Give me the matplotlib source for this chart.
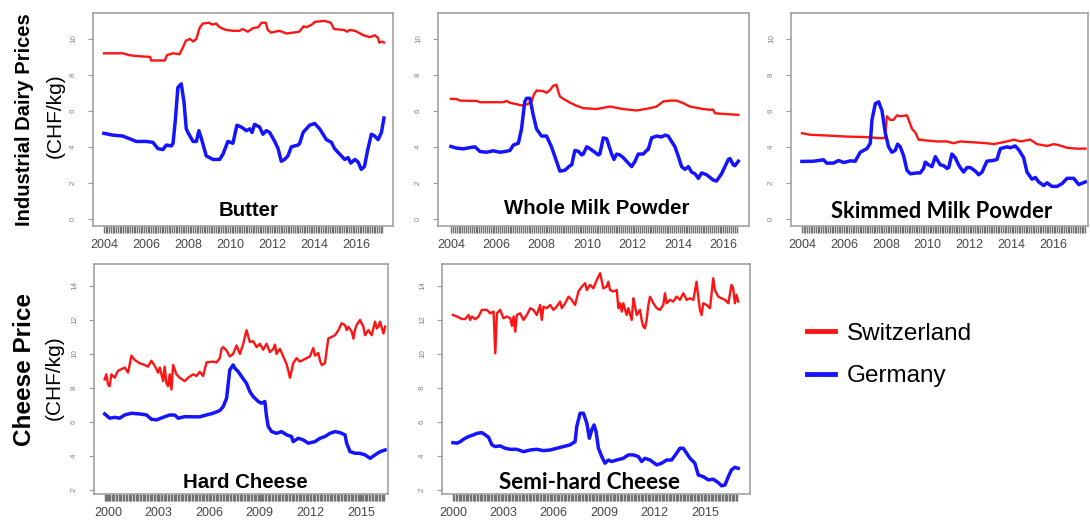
import numpy as np
import matplotlib
matplotlib.use("Agg")
import matplotlib.pyplot as plt
from matplotlib.lines import Line2D
from matplotlib.ticker import FixedLocator

plt.rcParams['font.family'] = ['Liberation Sans', 'DejaVu Sans']

SWISS = '#ff1414'
GERMAN = '#1414ff'

# ---------------- data (CHF/kg) ----------------
butter_ch_t = [2004.0, 2004.9, 2005.2, 2005.5, 2006.2, 2006.25, 2006.9, 2007.0, 2007.3, 2007.6,
               2007.75, 2007.9, 2008.1, 2008.25, 2008.4, 2008.55, 2008.7, 2009.0, 2009.15, 2009.35,
               2009.5, 2009.8, 2010.15, 2010.45, 2010.6, 2010.85, 2011.1, 2011.35, 2011.5, 2011.7,
               2011.8, 2011.95, 2012.35, 2012.7, 2013.3, 2013.5, 2013.65, 2013.9, 2014.05, 2014.5,
               2014.8, 2014.95, 2015.4, 2015.6, 2015.7, 2015.95, 2016.2, 2016.35, 2016.65, 2016.9,
               2017.05, 2017.1, 2017.25, 2017.33]
butter_ch = [9.2, 9.2, 9.1, 9.05, 9.0, 8.8, 8.8, 9.1, 9.2, 9.15,
             9.5, 9.9, 10.0, 9.85, 10.0, 10.6, 10.85, 10.9, 10.8, 10.85,
             10.65, 10.5, 10.45, 10.45, 10.55, 10.4, 10.6, 10.65, 10.9, 10.9,
             10.5, 10.35, 10.45, 10.3, 10.4, 10.7, 10.65, 10.8, 10.95, 11.0,
             10.9, 10.55, 10.5, 10.4, 10.5, 10.45, 10.3, 10.2, 10.1, 10.2,
             10.05, 9.8, 9.85, 9.8]
butter_de_t = [2004.0, 2004.43, 2004.9, 2005.22, 2005.54, 2006.02, 2006.33, 2006.57, 2006.81, 2006.97,
               2007.21, 2007.29, 2007.4, 2007.52, 2007.68, 2007.81, 2007.92, 2008.0, 2008.24, 2008.4,
               2008.52, 2008.63, 2008.87, 2009.19, 2009.51, 2009.67, 2009.9, 2010.14, 2010.33, 2010.54,
               2010.78, 2010.94, 2011.05, 2011.17, 2011.41, 2011.57, 2011.73, 2011.89, 2012.13, 2012.29,
               2012.44, 2012.6, 2012.76, 2012.92, 2013.24, 2013.32, 2013.48, 2013.79, 2014.03, 2014.27,
               2014.43, 2014.59, 2014.83, 2014.98, 2015.22, 2015.46, 2015.62, 2015.75, 2015.95, 2016.1,
               2016.25, 2016.4, 2016.55, 2016.73, 2016.89, 2017.05, 2017.21, 2017.33]
butter_de = [4.75, 4.65, 4.6, 4.45, 4.3, 4.3, 4.25, 3.9, 3.85, 4.1,
             4.05, 4.2, 5.5, 7.3, 7.5, 6.5, 5.0, 4.8, 4.3, 4.3,
             4.9, 4.5, 3.5, 3.3, 3.3, 3.6, 4.3, 4.2, 5.2, 5.1,
             4.9, 5.0, 4.8, 5.25, 5.1, 4.7, 4.9, 4.8, 4.3, 3.9,
             3.2, 3.3, 3.5, 4.0, 4.1, 4.2, 4.8, 5.2, 5.3, 5.0,
             4.7, 4.4, 4.25, 3.9, 3.6, 3.3, 3.4, 3.1, 3.3, 3.15,
             2.75, 2.9, 3.8, 4.7, 4.6, 4.4, 4.8, 5.6]

wmp_ch_t = [2004.0, 2004.25, 2004.4, 2005.13, 2005.28, 2006.31, 2006.45, 2006.6, 2006.89, 2007.11,
            2007.33, 2007.55, 2007.65, 2007.77, 2008.07, 2008.21, 2008.36, 2008.51, 2008.65, 2008.73,
            2008.8, 2008.95, 2009.24, 2009.54, 2009.83, 2010.42, 2011.0, 2011.59, 2012.18, 2012.77,
            2013.06, 2013.35, 2013.65, 2013.94, 2014.23, 2014.53, 2015.12, 2015.41, 2015.55, 2015.63,
            2016.0, 2016.66]
wmp_ch = [6.67, 6.65, 6.57, 6.55, 6.48, 6.48, 6.55, 6.45, 6.37, 6.3,
          6.35, 6.5, 6.9, 7.13, 7.1, 7.0, 7.15, 7.4, 7.45, 7.07,
          6.8, 6.67, 6.46, 6.28, 6.15, 6.1, 6.24, 6.1, 6.02, 6.15,
          6.24, 6.52, 6.57, 6.57, 6.43, 6.24, 6.1, 6.06, 6.07, 5.87,
          5.83, 5.78]
wmp_de_t = [2004.0, 2004.25, 2004.54, 2004.84, 2005.06, 2005.28, 2005.57, 2005.86, 2006.16, 2006.38,
            2006.6, 2006.75, 2006.97, 2007.11, 2007.25, 2007.33, 2007.48, 2007.62, 2007.77, 2007.99,
            2008.21, 2008.43, 2008.65, 2008.8, 2009.02, 2009.24, 2009.32, 2009.46, 2009.61, 2009.76,
            2009.83, 2009.98, 2010.12, 2010.34, 2010.49, 2010.56, 2010.71, 2010.86, 2011.0, 2011.08,
            2011.18, 2011.3, 2011.44, 2011.59, 2011.81, 2011.96, 2012.11, 2012.25, 2012.47, 2012.62,
            2012.69, 2012.84, 2013.06, 2013.28, 2013.43, 2013.57, 2013.72, 2013.87, 2014.01, 2014.16,
            2014.31, 2014.46, 2014.6, 2014.75, 2014.9, 2015.04, 2015.26, 2015.41, 2015.56, 2015.7,
            2015.92, 2016.07, 2016.22, 2016.29, 2016.44, 2016.51, 2016.66]
wmp_de = [4.02, 3.93, 3.89, 3.96, 4.0, 3.74, 3.7, 3.78, 3.7, 3.74,
          3.8, 4.1, 4.2, 5.0, 6.5, 6.7, 6.7, 5.8, 5.0, 4.6,
          4.6, 4.0, 3.2, 2.65, 2.7, 2.95, 3.0, 3.8, 3.75, 3.55,
          3.6, 4.0, 3.9, 3.7, 3.55, 3.6, 4.5, 4.45, 3.9, 3.6,
          3.3, 3.6, 3.55, 3.4, 3.1, 2.9, 3.2, 3.6, 3.6, 3.8,
          3.85, 4.5, 4.6, 4.55, 4.65, 4.6, 4.3, 4.0, 3.5, 2.9,
          2.75, 2.9, 2.6, 2.5, 2.25, 2.55, 2.45, 2.3, 2.15, 2.1,
          2.5, 2.9, 3.3, 3.35, 3.0, 2.95, 3.2]

smp_ch_t = [2004.0, 2004.4, 2005.19, 2006.15, 2007.1, 2007.74, 2007.97, 2008.05, 2008.21, 2008.37,
            2008.53, 2008.69, 2009.01, 2009.09, 2009.25, 2009.41, 2009.56, 2009.96, 2010.44, 2010.92,
            2011.23, 2011.55, 2012.19, 2012.82, 2013.14, 2013.78, 2014.1, 2014.41, 2014.89, 2015.21,
            2015.69, 2016.0, 2016.24, 2016.64, 2017.12, 2017.52]
smp_ch = [4.76, 4.67, 4.63, 4.57, 4.54, 4.48, 4.5, 5.7, 5.5, 5.5,
          5.75, 5.7, 5.75, 5.5, 5.0, 4.8, 4.4, 4.35, 4.3, 4.3,
          4.2, 4.3, 4.25, 4.2, 4.15, 4.3, 4.4, 4.3, 4.4, 4.15,
          4.05, 4.15, 4.1, 3.95, 3.9, 3.9]
smp_de_t = [2004.0, 2004.56, 2005.03, 2005.19, 2005.51, 2005.75, 2005.99, 2006.31, 2006.54, 2006.78,
            2007.1, 2007.26, 2007.34, 2007.5, 2007.66, 2007.82, 2007.97, 2008.13, 2008.29, 2008.45,
            2008.56, 2008.69, 2008.85, 2009.01, 2009.17, 2009.48, 2009.64, 2009.8, 2009.88, 2010.04,
            2010.2, 2010.36, 2010.44, 2010.6, 2010.76, 2010.92, 2011.0, 2011.15, 2011.31, 2011.47,
            2011.55, 2011.71, 2011.87, 2012.03, 2012.27, 2012.43, 2012.59, 2012.82, 2013.14, 2013.3,
            2013.46, 2013.78, 2013.94, 2014.17, 2014.33, 2014.49, 2014.57, 2014.73, 2014.97, 2015.13,
            2015.29, 2015.53, 2015.69, 2015.92, 2016.16, 2016.4, 2016.64, 2016.96, 2017.2, 2017.51]
smp_de = [3.19, 3.2, 3.28, 3.09, 3.1, 3.24, 3.13, 3.22, 3.2, 3.7,
          3.9, 4.2, 5.5, 6.4, 6.5, 6.0, 4.8, 4.0, 3.7, 3.8,
          4.15, 4.0, 3.5, 2.7, 2.5, 2.55, 2.55, 2.8, 3.15, 3.0,
          2.9, 3.45, 3.3, 3.0, 2.95, 2.8, 2.85, 3.6, 3.4, 3.0,
          2.85, 2.6, 2.85, 2.85, 2.65, 2.45, 2.6, 3.2, 3.25, 3.3,
          3.9, 4.0, 3.95, 4.05, 3.85, 3.55, 3.4, 2.6, 2.2, 2.3,
          2.05, 1.85, 2.0, 1.8, 1.8, 1.95, 2.25, 2.25, 1.9, 2.05]

hard_ch_t = [1999.8, 1999.9, 2000.0, 2000.1, 2000.2, 2000.4, 2000.59, 2000.79, 2000.99, 2001.19,
             2001.39, 2001.58, 2001.88, 2002.18, 2002.37, 2002.57, 2002.77, 2002.97, 2003.07, 2003.27,
             2003.36, 2003.46, 2003.56, 2003.66, 2003.76, 2003.86, 2004.06, 2004.25, 2004.55, 2004.75,
             2005.05, 2005.24, 2005.44, 2005.64, 2005.84, 2006.23, 2006.43, 2006.63, 2006.73, 2006.83,
             2007.03, 2007.22, 2007.42, 2007.62, 2007.82, 2008.02, 2008.21, 2008.41, 2008.61, 2008.81,
             2009.0, 2009.2, 2009.4, 2009.6, 2009.8, 2009.9, 2009.99, 2010.19, 2010.39, 2010.59,
             2010.79, 2010.88, 2010.98, 2011.18, 2011.38, 2011.68, 2011.97, 2012.17, 2012.27, 2012.47,
             2012.57, 2012.67, 2012.86, 2013.06, 2013.26, 2013.46, 2013.66, 2013.85, 2014.05, 2014.15,
             2014.25, 2014.45, 2014.55, 2014.64, 2014.74, 2014.94, 2015.14, 2015.24, 2015.44, 2015.63,
             2015.83, 2015.93, 2016.03, 2016.13, 2016.33, 2016.43]
hard_ch = [8.5, 8.8, 8.2, 8.1, 8.8, 8.6, 9.0, 9.1, 9.2, 8.9,
           9.9, 9.65, 9.45, 9.35, 9.25, 9.6, 9.3, 8.9, 9.2, 8.4,
           9.25, 8.3, 8.1, 8.8, 7.9, 9.35, 8.8, 8.6, 8.4, 8.6,
           8.8, 8.7, 8.95, 8.7, 9.5, 9.55, 9.5, 9.75, 10.3, 10.4,
           10.2, 9.85, 10.0, 10.5, 10.0, 10.6, 11.4, 10.7, 10.75, 10.4,
           10.6, 10.25, 10.6, 10.1, 10.3, 10.55, 10.0, 10.3, 9.85, 9.4,
           8.6, 9.0, 9.45, 9.75, 9.55, 9.7, 9.85, 10.35, 9.9, 10.05,
           9.6, 9.35, 9.45, 10.9, 11.0, 11.1, 11.4, 11.8, 11.7, 11.4,
           11.6, 11.3, 10.9, 11.4, 11.7, 12.0, 11.6, 11.1, 11.4, 11.1,
           11.9, 11.5, 11.6, 11.9, 11.2, 11.6]
hard_de_t = [1999.8, 2000.1, 2000.4, 2000.69, 2000.99, 2001.39, 2001.88, 2002.28, 2002.57, 2002.87,
             2003.27, 2003.66, 2003.96, 2004.16, 2004.55, 2004.95, 2005.44, 2005.84, 2006.23, 2006.63,
             2006.83, 2007.03, 2007.22, 2007.42, 2007.52, 2007.72, 2007.92, 2008.21, 2008.41, 2008.61,
             2008.91, 2009.1, 2009.3, 2009.4, 2009.5, 2009.7, 2009.99, 2010.29, 2010.59, 2010.88,
             2010.98, 2011.28, 2011.58, 2011.87, 2012.27, 2012.57, 2012.86, 2013.16, 2013.46, 2013.75,
             2014.05, 2014.15, 2014.35, 2014.64, 2014.94, 2015.24, 2015.54, 2015.83, 2016.13, 2016.43]
hard_de = [6.47, 6.22, 6.27, 6.22, 6.41, 6.51, 6.47, 6.41, 6.16, 6.12,
           6.27, 6.41, 6.4, 6.22, 6.31, 6.3, 6.3, 6.41, 6.51, 6.67,
           6.9, 7.39, 9.06, 9.35, 9.16, 8.96, 8.67, 8.27, 7.78, 7.49,
           7.2, 7.1, 7.2, 6.31, 5.73, 5.43, 5.33, 5.43, 5.24, 5.14,
           4.84, 5.04, 4.94, 4.75, 4.84, 5.04, 5.14, 5.33, 5.43, 5.37,
           5.24, 4.75, 4.25, 4.16, 4.15, 4.06, 3.86, 4.06, 4.25, 4.35]

semi_ch_t = [2000.0, 2000.24, 2000.53, 2000.73, 2000.93, 2001.03, 2001.13, 2001.33, 2001.53, 2001.72,
             2002.02, 2002.22, 2002.42, 2002.52, 2002.62, 2002.81, 2003.01, 2003.21, 2003.41, 2003.51,
             2003.61, 2003.71, 2003.8, 2004.0, 2004.2, 2004.4, 2004.6, 2004.79, 2004.99, 2005.19,
             2005.29, 2005.39, 2005.59, 2005.79, 2005.98, 2006.18, 2006.38, 2006.48, 2006.68, 2006.88,
             2007.07, 2007.27, 2007.47, 2007.67, 2007.87, 2007.97, 2008.16, 2008.36, 2008.56, 2008.76,
             2008.95, 2009.15, 2009.25, 2009.35, 2009.55, 2009.75, 2009.85, 2009.95, 2010.05, 2010.14,
             2010.34, 2010.44, 2010.64, 2010.74, 2010.84, 2010.94, 2011.14, 2011.23, 2011.33, 2011.43,
             2011.53, 2011.63, 2011.73, 2011.93, 2012.13, 2012.32, 2012.52, 2012.62, 2012.72, 2012.92,
             2013.12, 2013.31, 2013.51, 2013.71, 2013.91, 2014.11, 2014.31, 2014.5, 2014.6, 2014.7,
             2014.8, 2014.9, 2015.1, 2015.3, 2015.49, 2015.59, 2015.79, 2015.99, 2016.19, 2016.39,
             2016.58, 2016.68, 2016.78, 2016.88, 2016.98]
semi_ch = [12.29, 12.2, 12.06, 12.05, 12.29, 12.0, 12.2, 12.04, 12.2, 12.59,
           12.59, 12.39, 12.49, 10.04, 12.39, 12.59, 12.1, 12.2, 12.1, 11.65,
           12.2, 11.31, 12.29, 12.39, 12.0, 12.29, 12.69, 12.59, 12.29, 12.88,
           12.0, 12.78, 12.69, 12.88, 12.59, 12.78, 13.08, 12.69, 12.98, 13.37,
           13.18, 12.88, 13.67, 13.96, 14.16, 13.76, 14.06, 13.86, 14.35, 14.75,
           13.86, 13.96, 14.25, 13.76, 13.67, 13.76, 12.69, 12.98, 12.49, 12.98,
           12.29, 12.69, 12.0, 13.27, 12.78, 12.29, 12.59, 12.0, 11.61, 11.51,
           12.0, 12.88, 13.37, 12.98, 12.69, 12.59, 12.88, 13.57, 12.98, 13.18,
           13.08, 13.37, 13.18, 13.57, 13.18, 13.27, 13.18, 14.25, 13.37, 12.59,
           12.29, 12.98, 12.88, 12.69, 14.45, 13.76, 13.37, 13.27, 13.18, 12.98,
           14.06, 13.86, 12.98, 13.47, 13.08]
semi_de_t = [2000.0, 2000.24, 2000.44, 2000.63, 2000.93, 2001.23, 2001.43, 2001.72, 2001.92, 2002.12,
             2002.32, 2002.52, 2002.81, 2003.11, 2003.41, 2003.8, 2004.2, 2004.6, 2004.99, 2005.39,
             2005.79, 2006.18, 2006.58, 2006.97, 2007.27, 2007.37, 2007.57, 2007.77, 2007.97, 2008.12,
             2008.26, 2008.4, 2008.52, 2008.66, 2008.86, 2009.05, 2009.25, 2009.45, 2009.75, 2010.14,
             2010.44, 2010.74, 2011.04, 2011.23, 2011.43, 2011.73, 2012.13, 2012.42, 2012.72, 2013.02,
             2013.31, 2013.51, 2013.71, 2013.91, 2014.11, 2014.4, 2014.6, 2014.9, 2015.2, 2015.49,
             2015.79, 2015.99, 2016.19, 2016.39, 2016.58, 2016.78, 2016.98]
semi_de = [4.78, 4.75, 4.84, 4.98, 5.14, 5.24, 5.33, 5.37, 5.24, 5.1,
           4.65, 4.55, 4.59, 4.45, 4.39, 4.39, 4.25, 4.35, 4.39, 4.31,
           4.35, 4.45, 4.55, 4.65, 4.84, 5.73, 6.51, 6.51, 5.92, 5.04,
           5.53, 5.82, 5.43, 4.45, 3.96, 3.57, 3.76, 3.67, 3.76, 3.86,
           4.06, 4.06, 3.96, 3.67, 3.86, 3.76, 3.47, 3.57, 3.76, 3.76,
           4.16, 4.45, 4.45, 4.16, 3.86, 3.57, 2.88, 2.78, 2.59, 2.63,
           2.43, 2.24, 2.29, 2.78, 3.18, 3.33, 3.27]

top_years = [2004, 2006, 2008, 2010, 2012, 2014, 2016]
bottom_years = [2000, 2003, 2006, 2009, 2012, 2015]
top_yticks = [0, 2, 4, 6, 8, 10]
bottom_yticks = [2, 4, 6, 8, 10, 12, 14]

W, H = 1090, 521
fig = plt.figure(figsize=(W / 100, H / 100), dpi=100)


def px_rect(left, top, right, bottom):
    return [left / W, 1 - bottom / H, (right - left) / W, (bottom - top) / H]


def draw_panel(rect, t_ch, v_ch, t_de, v_de, xlim, ylim, years, yticks,
               title, tx, ty, title_family, title_size):
    ax = fig.add_axes(rect)
    ax.plot(t_ch, v_ch, color=SWISS, lw=1.7, solid_joinstyle='round')
    ax.plot(t_de, v_de, color=GERMAN, lw=2.5, solid_joinstyle='round')
    ax.set_xlim(*xlim)
    ax.set_ylim(*ylim)

    # labelled years plus a dense monthly tick band, as in the original
    ax.xaxis.set_major_locator(FixedLocator(years))
    ax.set_xticklabels([str(y) for y in years])
    t0 = min(t_ch[0], t_de[0])
    t1 = max(t_ch[-1], t_de[-1])
    ax.xaxis.set_minor_locator(FixedLocator(np.arange(t0, t1 + 1e-6, 1 / 12)))
    ax.tick_params(axis='x', which='both', length=5, width=1.0, color='#737373',
                   pad=4, labelsize=9, labelcolor='#474747')

    ax.set_yticks(yticks)
    ax.tick_params(axis='y', length=3.5, width=0.8, color='#9a9a9a', pad=8,
                   labelsize=5.8, labelcolor='#858585', labelrotation=90)
    for lab in ax.get_yticklabels():
        lab.set_va('center')

    for sp in ax.spines.values():
        sp.set_color('#9a9a9a')
        sp.set_linewidth(1.1)

    ax.text(tx, ty, title, transform=ax.transAxes, ha='center', va='center',
            fontsize=title_size, fontweight='bold', family=title_family)
    return ax


arial = ['Liberation Sans', 'DejaVu Sans']
narrow = ['Lato', 'DejaVu Sans']

draw_panel(px_rect(93, 13, 393, 226), butter_ch_t, butter_ch, butter_de_t, butter_de,
           (2003.48, 2017.76), (-0.4, 11.44), top_years, top_yticks,
           'Butter', 0.517, 0.075, arial, 14.7)
draw_panel(px_rect(438, 13, 749, 226), wmp_ch_t, wmp_ch, wmp_de_t, wmp_de,
           (2003.43, 2017.13), (-0.4, 11.44), top_years, top_yticks,
           'Whole Milk Powder', 0.511, 0.08, arial, 14.7)
draw_panel(px_rect(791, 13, 1088, 226), smp_ch_t, smp_ch, smp_de_t, smp_de,
           (2003.48, 2017.64), (-0.4, 11.44), top_years, top_yticks,
           'Skimmed Milk Powder', 0.508, 0.07, narrow, 15.8)
draw_panel(px_rect(94, 264, 388, 494), hard_ch_t, hard_ch, hard_de_t, hard_de,
           (1999.17, 2016.6), (1.76, 15.29), bottom_years, bottom_yticks,
           'Hard Cheese', 0.514, 0.048, arial, 14.7)
draw_panel(px_rect(442, 264, 750, 494), semi_ch_t, semi_ch, semi_de_t, semi_de,
           (1999.35, 2017.68), (1.76, 15.29), bottom_years, bottom_yticks,
           'Semi-hard Cheese', 0.479, 0.052, narrow, 16.2)

# row labels
fig.text(25 / W, 1 - 120 / H, 'Industrial Dairy Prices', rotation=90, ha='center', va='center',
         fontsize=14.5, fontweight='bold')
fig.text(55 / W, 1 - 116 / H, '(CHF/kg)', rotation=90, ha='center', va='center', fontsize=15)
fig.text(25 / W, 1 - 370 / H, 'Cheese Price', rotation=90, ha='center', va='center',
         fontsize=17.5, fontweight='bold')
fig.text(54 / W, 1 - 378 / H, '(CHF/kg)', rotation=90, ha='center', va='center', fontsize=15)

handles = [Line2D([], [], color=SWISS, lw=3.5), Line2D([], [], color=GERMAN, lw=3.5)]
fig.legend(handles, ['Switzerland', 'Germany'], loc='center left',
           bbox_to_anchor=(807 / W, 1 - 355 / H), frameon=False, fontsize=17.5,
           handlelength=1.15, handletextpad=0.5, labelspacing=0.85,
           borderpad=0, borderaxespad=0)

fig.savefig('out.png', dpi=100)
